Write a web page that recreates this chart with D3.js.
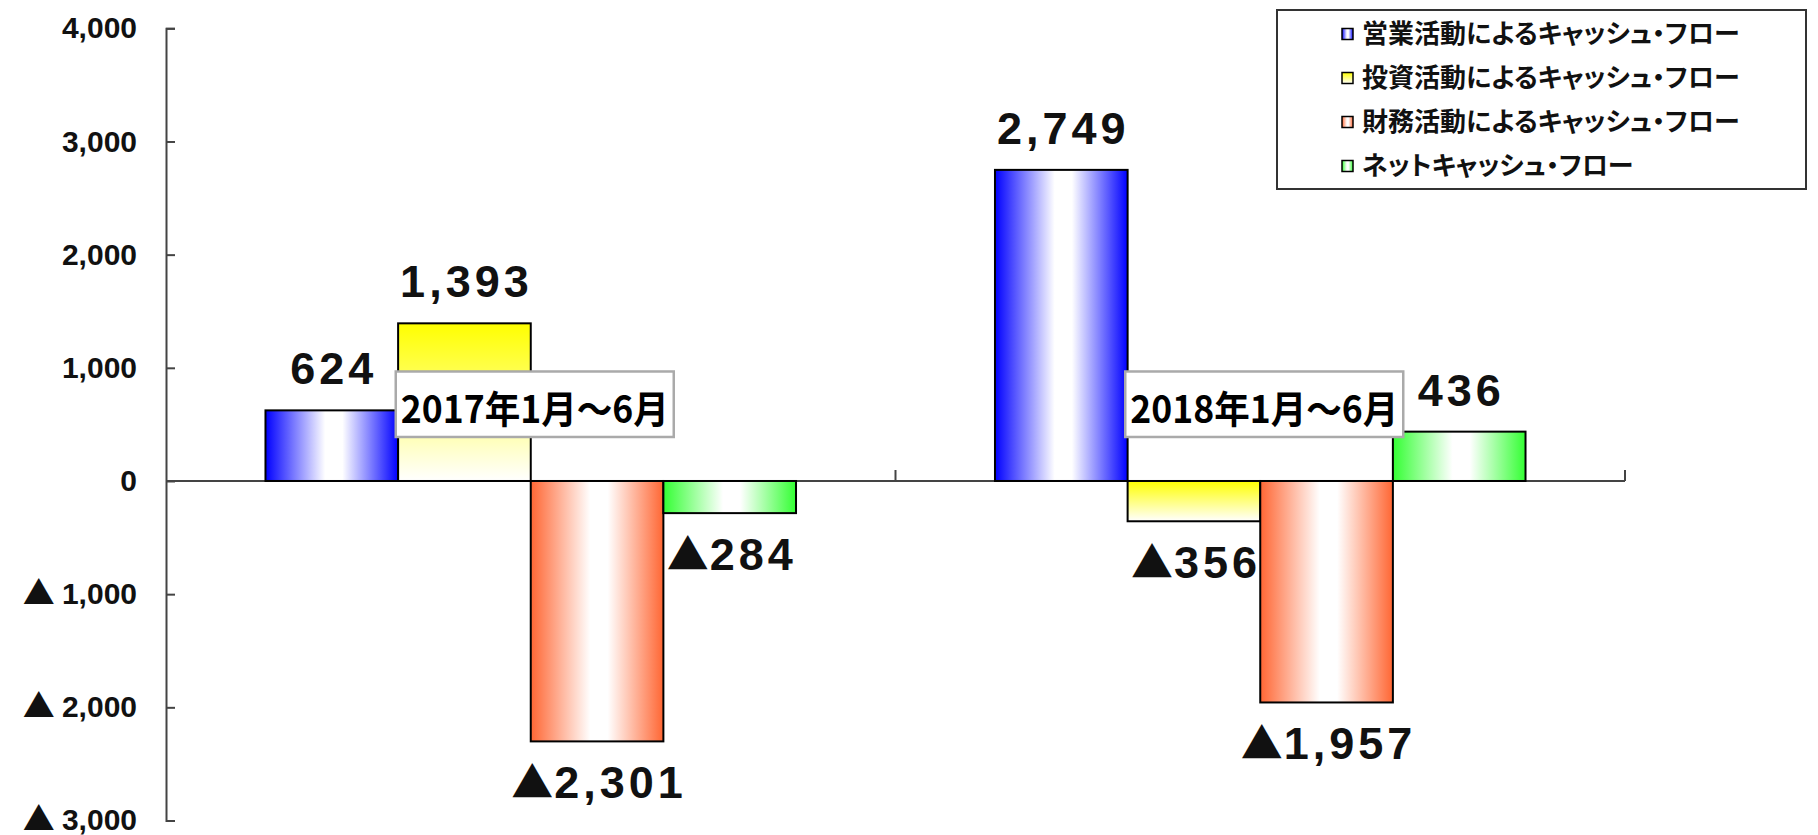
<!DOCTYPE html>
<html>
<head>
<meta charset="utf-8">
<script src="https://cdn.jsdelivr.net/npm/d3@7/dist/d3.min.js"></script>
<style>
  body { margin: 0; background: #fff; }
</style>
</head>
<body>
<script>
// Data
const categories = ["2017年1月～6月", "2018年1月～6月"];
const seriesKeys = ["operating", "investing", "financing", "net"];
const seriesNames = [
  "営業活動によるキャッシュ・フロー",
  "投資活動によるキャッシュ・フロー",
  "財務活動によるキャッシュ・フロー",
  "ネットキャッシュ・フロー",
];
const operating = [624, 2749];
const investing = [1393, -356];
const financing = [-2301, -1957];
const net = [-284, 436];
const yTicks = [4000, 3000, 2000, 1000, 0, -1000, -2000, -3000];

const width = 1818;
const height = 835;

const svg = d3
  .select("body")
  .append("svg")
  .attr("width", width)
  .attr("height", height);

// gradients, one per series
const defs = svg.append("defs");
function hGrad(id, col) {
  const gr = defs.append("linearGradient").attr("id", id)
    .attr("x1", 0).attr("y1", 0).attr("x2", 1).attr("y2", 0);
  gr.append("stop").attr("offset", 0).attr("stop-color", col);
  gr.append("stop").attr("offset", 0.45).attr("stop-color", "#fff");
  gr.append("stop").attr("offset", 0.58).attr("stop-color", "#fff");
  gr.append("stop").attr("offset", 1).attr("stop-color", col);
}
hGrad("g-operating", "#0000ff");
hGrad("g-financing", "#ff6633");
hGrad("g-net", "#33ff33");
const yg = defs.append("linearGradient").attr("id", "g-investing")
  .attr("x1", 0).attr("y1", 0).attr("x2", 0).attr("y2", 1);
yg.append("stop").attr("offset", 0).attr("stop-color", "#ffff00");
yg.append("stop").attr("offset", 1).attr("stop-color", "#ffffff");

// table built from the arrays
const valuesByKey = { operating, investing, financing, net };
const data = categories.map((c, i) => ({
  cat: c,
  bars: seriesKeys.map((k) => ({ key: k, value: valuesByKey[k][i] })),
}));

// scales
const y = d3.scaleLinear().domain([-3000, 4000]).range([820.5, 28.3]);
const x0 = d3.scaleBand().domain(categories).range([166, 1625]);
const x1 = d3.scaleBand().domain(seriesKeys)
  .range([0, x0.bandwidth()]).paddingInner(0).paddingOuter(0.75);

// y axis
const fmt = d3.format(",");
const yAxis = d3.axisLeft(y)
  .tickValues(yTicks)
  .tickSizeInner(-9)
  .tickSizeOuter(-9)
  .tickPadding(29)
  .tickFormat((d) => fmt(Math.abs(d)));

const gy = svg.append("g").attr("transform", "translate(166,0)").call(yAxis);
gy.selectAll("path, line").attr("stroke", "#444").attr("stroke-width", 2);
gy.selectAll("text")
  .attr("font-family", "Liberation Sans, Arial, sans-serif")
  .attr("font-weight", "bold")
  .attr("font-size", 30)
  .attr("fill", "#111");
// negative ticks get a triangle in front
gy.selectAll(".tick")
  .filter((d) => d < 0)
  .select("text")
  .attr("dy", "0.3em")
  .each(function (d) {
    const t = d3.select(this).text("");
    t.append("tspan")
      .attr("font-family", "Noto Sans CJK JP, sans-serif")
      .attr("font-size", 32)
      .text("▲ ");
    t.append("tspan").text(fmt(-d));
  });

// zero line with category separators
const zeroY = y(0);
svg.append("line")
  .attr("x1", x0.range()[0]).attr("x2", x0.range()[1])
  .attr("y1", zeroY).attr("y2", zeroY)
  .attr("stroke", "#444").attr("stroke-width", 2);
const bounds = categories.map((c) => x0(c)).concat([x0.range()[1]]);
svg.selectAll(".xtick")
  .data(bounds.slice(1))
  .join("line")
  .attr("class", "xtick")
  .attr("x1", (d) => d).attr("x2", (d) => d)
  .attr("y1", zeroY).attr("y2", zeroY - 11)
  .attr("stroke", "#444").attr("stroke-width", 2);

// bars
const groups = svg.selectAll(".grp")
  .data(data)
  .join("g")
  .attr("class", "grp")
  .attr("transform", (d) => `translate(${x0(d.cat)},0)`);

groups.selectAll("rect")
  .data((d) => d.bars)
  .join("rect")
  .attr("x", (d) => x1(d.key))
  .attr("width", x1.bandwidth())
  .attr("y", (d) => y(Math.max(0, d.value)))
  .attr("height", (d) => Math.abs(y(d.value) - y(0)))
  .attr("fill", (d) => `url(#g-${d.key})`)
  .attr("stroke", "#000")
  .attr("stroke-width", 2);

// category label boxes
const catG = svg.selectAll(".cat")
  .data(categories)
  .join("g")
  .attr("class", "cat")
  .attr("transform", (d) => `translate(${x0(d) + x0.bandwidth() / 2 + 4},${zeroY})`);

catG.append("rect")
  .attr("x", -139)
  .attr("width", 278)
  .attr("y", -109.5)
  .attr("height", 65.5)
  .attr("fill", "#fff")
  .attr("stroke", "#aaa")
  .attr("stroke-width", 2.5);
catG.append("text")
  .attr("text-anchor", "middle")
  .attr("y", -58)
  .attr("font-family", "Noto Sans CJK JP, sans-serif")
  .attr("font-weight", "bold")
  .attr("font-size", 38)
  .attr("textLength", 268)
  .attr("lengthAdjust", "spacingAndGlyphs")
  .text((d) => d);

// value labels
const vals = groups.selectAll(".val")
  .data((d) => d.bars)
  .join("text")
  .attr("class", "val")
  .attr("x", (d) => x1(d.key) + x1.bandwidth() / 2 + 2)
  .attr("y", (d) => (d.value >= 0 ? y(d.value) - 26 : y(d.value) + 57))
  .attr("text-anchor", "middle")
  .attr("font-family", "Liberation Sans, Arial, sans-serif")
  .attr("font-weight", "bold")
  .attr("font-size", 45)
  .attr("letter-spacing", 4)
  .attr("fill", "#111");
vals.filter((d) => d.value < 0)
  .append("tspan")
  .attr("font-family", "Noto Sans CJK JP, sans-serif")
  .attr("font-size", 42)
  .attr("letter-spacing", 1)
  .text("▲");
vals.append("tspan").text((d) => fmt(Math.abs(d.value)));

// legend
const legend = svg.append("g").attr("transform", "translate(1277,10)");
legend.append("rect")
  .attr("width", 529).attr("height", 179)
  .attr("fill", "#fff").attr("stroke", "#333").attr("stroke-width", 2);
const rows = legend.selectAll(".row")
  .data(seriesKeys)
  .join("g")
  .attr("class", "row")
  .attr("transform", (d, i) => `translate(0,${24 + i * 44})`);
rows.append("rect")
  .attr("x", 65).attr("y", -5.5)
  .attr("width", 11).attr("height", 11)
  .attr("fill", (d) => `url(#g-${d})`)
  .attr("stroke", "#000").attr("stroke-width", 1.5);
rows.append("text")
  .attr("x", 85)
  .attr("dy", "0.36em")
  .attr("font-family", "Noto Sans CJK JP, sans-serif")
  .attr("font-weight", "bold")
  .attr("font-size", 26)
  .style("font-feature-settings", "'palt'")
  .attr("fill", "#111")
  .text((d, i) => seriesNames[i]);
</script>
</body>
</html>
